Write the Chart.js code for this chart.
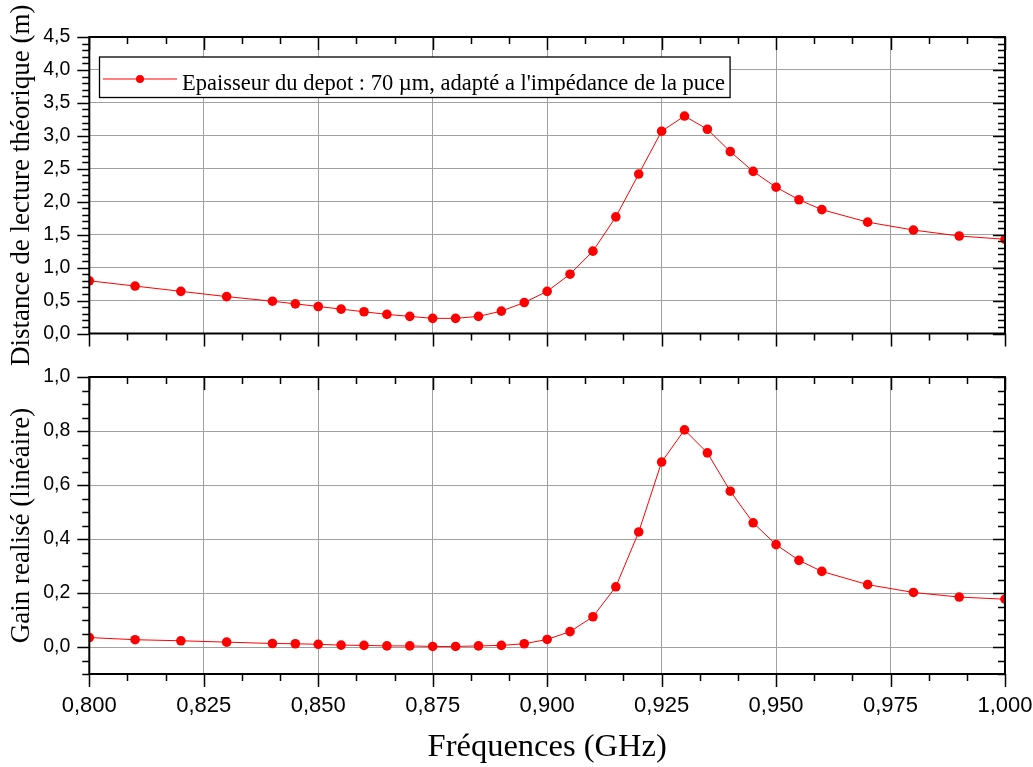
<!DOCTYPE html>
<html>
<head>
<meta charset="utf-8">
<script src="https://cdn.jsdelivr.net/npm/chart.js@4.4.1/dist/chart.umd.min.js"></script>
<style>
  html,body{margin:0;padding:0;background:#fff;}
  #wrap{position:relative;width:1033px;height:767px;}
  canvas{position:absolute;left:0;}
  #c1{top:0;z-index:2;}
  #c2{top:350px;z-index:1;}
</style>
</head>
<body>
<div id="wrap">
  <canvas id="c1" width="1033" height="375"></canvas>
  <canvas id="c2" width="1033" height="417"></canvas>
</div>
<script>
// ---- data ----
const freqGHz = [0.80,0.81,0.82,0.83,0.84,0.845,0.85,0.855,0.86,0.865,0.87,0.875,0.88,0.885,0.89,0.895,0.90,0.905,0.91,0.915,0.92,0.925,0.93,0.935,0.94,0.945,0.95,0.955,0.96,0.97,0.98,0.99,1.00];
const distance = [0.80,0.72,0.64,0.56,0.49,0.45,0.41,0.37,0.33,0.29,0.26,0.23,0.23,0.26,0.34,0.47,0.64,0.90,1.25,1.77,2.42,3.07,3.30,3.10,2.76,2.46,2.22,2.03,1.88,1.69,1.57,1.48,1.43];
const gain = [0.035,0.027,0.023,0.018,0.013,0.012,0.010,0.007,0.006,0.004,0.004,0.002,0.002,0.004,0.006,0.012,0.028,0.057,0.112,0.223,0.426,0.685,0.804,0.719,0.577,0.460,0.379,0.321,0.280,0.231,0.202,0.185,0.177];
const xTicks = [0.800,0.825,0.850,0.875,0.900,0.925,0.950,0.975,1.000];
const yTicksTop = [0,0.5,1.0,1.5,2.0,2.5,3.0,3.5,4.0,4.5];
const yTicksBottom = [0,0.2,0.4,0.6,0.8,1.0];
const seriesLabel = "Epaisseur du depot : 70 µm, adapté a l'impédance de la puce";
const titleTop = "Distance de lecture théorique (m)";
const titleBottom = "Gain realisé (linéaire)";
const titleX = "Fréquences (GHz)";

const RED = '#ff0000';
const GRID = '#a0a0a0';
const SANS = "'Liberation Sans', Arial, sans-serif";
const SERIF = "'Liberation Serif', 'Times New Roman', serif";

function comma(v, d){ return v.toFixed(d).replace('.', ','); }

// frame + minor/major ticks drawn from the scales
function framePlugin(xMinorStep, yMinorStep){
  return {
    id:'frame',
    afterDraw(chart){
      const {ctx, chartArea:a, scales:{x, y}} = chart;
      ctx.save();
      ctx.strokeStyle = '#000';
      ctx.lineWidth = 1.5;
      const nx = Math.round((x.max - x.min)/xMinorStep);
      for(let i=0;i<=nx;i++){
        const v = x.min + i*xMinorStep;
        const px = Math.round(x.getPixelForValue(v))+0.5;
        const major = i % 3 === 0;
        const L = major ? 13 : 7;
        ctx.beginPath();
        ctx.moveTo(px, a.bottom); ctx.lineTo(px, a.bottom + L);
        ctx.moveTo(px, a.top); ctx.lineTo(px, a.top + L);
        ctx.stroke();
      }
      const ny = Math.round((y.max - y.min)/yMinorStep);
      for(let i=0;i<=ny;i++){
        const v = y.min + i*yMinorStep;
        const py = Math.round(y.getPixelForValue(v))+0.5;
        const isMajor = y.ticks.some(t => Math.abs(t.value - v) < 1e-6);
        const L = isMajor ? 12 : 7;
        ctx.beginPath();
        ctx.moveTo(a.left, py); ctx.lineTo(a.left - L, py);
        ctx.moveTo(a.right, py); ctx.lineTo(a.right - L, py);
        ctx.stroke();
      }
      ctx.lineWidth = 2;
      ctx.strokeRect(a.left, a.top, a.right - a.left, a.bottom - a.top);
      ctx.restore();
    }
  };
}

const legendPlugin = {
  id:'boxLegend',
  afterDraw(chart){
    const ctx = chart.ctx;
    const ds = chart.data.datasets[0];
    ctx.save();
    ctx.font = "22.5px " + SERIF;
    const tw = ctx.measureText(ds.label).width;
    const bx = 99.5, by = 57, bh = 40.5;
    const tx = 182;
    const bw = tx + tw + 5 - bx;
    ctx.fillStyle = '#fff';
    ctx.fillRect(bx, by, bw, bh);
    ctx.strokeStyle = '#000';
    ctx.lineWidth = 1.3;
    ctx.strokeRect(bx, by, bw, bh);
    const cy = 79;
    ctx.strokeStyle = RED; ctx.lineWidth = 1;
    ctx.beginPath(); ctx.moveTo(103, cy); ctx.lineTo(177, cy); ctx.stroke();
    ctx.fillStyle = RED;
    ctx.beginPath(); ctx.arc(140, cy, 4, 0, Math.PI*2); ctx.fill();
    ctx.fillStyle = '#000';
    ctx.textBaseline = 'alphabetic';
    ctx.fillText(ds.label, tx, 90);
    ctx.restore();
  }
};

function lineDataset(values){
  return {
    label: seriesLabel,
    data: freqGHz.map((f,i)=>({x:f, y:values[i]})),
    borderColor: RED,
    backgroundColor: RED,
    borderWidth: 1,
    pointRadius: 4.8,
    pointHoverRadius: 4.8,
    pointBackgroundColor: RED,
    pointBorderWidth: 0,
    tension: 0,
    clip: 0
  };
}

function setTicks(list){ return (s)=>{ s.ticks = list.map(v=>({value:v})); }; }

const gridOpts = { color:GRID, lineWidth:1, drawTicks:true, tickLength:19, tickColor:'rgba(0,0,0,0)' };

// ---- top chart ----
new Chart(document.getElementById('c1'), {
  type:'line',
  data:{ datasets:[ lineDataset(distance) ] },
  options:{
    responsive:false, animation:false,
    layout:{ autoPadding:false, padding:{top:37, right:28, bottom:0, left:0} },
    plugins:{ legend:{display:false}, tooltip:{enabled:false} },
    scales:{
      x:{
        type:'linear', min:0.8, max:1.0,
        afterBuildTicks: setTicks(xTicks),
        afterFit:(s)=>{ s.height = 375 - 333.5; },
        ticks:{ display:false },
        grid:{ color:GRID, lineWidth:1, drawTicks:false },
        border:{ display:false }
      },
      y:{
        min:0, max:4.5,
        afterBuildTicks: setTicks(yTicksTop),
        afterFit:(s)=>{ s.width = 89.3; },
        ticks:{ font:{family:SANS, size:19.5}, color:'#000', padding:0, callback:(v)=>comma(v,1) },
        grid:gridOpts,
        border:{ display:false },
        title:{ display:true, text:titleTop, font:{family:SERIF, size:27}, color:'#000', padding:{top:6, bottom:0} }
      }
    }
  },
  plugins:[ framePlugin(0.025/3, 0.1), legendPlugin ]
});

// ---- bottom chart ----
new Chart(document.getElementById('c2'), {
  type:'line',
  data:{ datasets:[ lineDataset(gain) ] },
  options:{
    responsive:false, animation:false,
    layout:{ autoPadding:false, padding:{top:27, right:28, bottom:0, left:0} },
    plugins:{ legend:{display:false}, tooltip:{enabled:false} },
    scales:{
      x:{
        type:'linear', min:0.8, max:1.0,
        afterBuildTicks: setTicks(xTicks),
        afterFit:(s)=>{ s.height = 417 - 324; },
        ticks:{ font:{family:SANS, size:22}, color:'#000', padding:0, maxRotation:0, autoSkip:false, callback:(v)=>comma(v,3) },
        grid:gridOpts,
        border:{ display:false },
        title:{ display:true, text:titleX, font:{family:SERIF, size:32.5, lineHeight:1.0}, color:'#000', padding:{top:0, bottom:3} }
      },
      y:{
        min:-0.1, max:1.0,
        afterBuildTicks: setTicks(yTicksBottom),
        afterFit:(s)=>{ s.width = 89.3; },
        ticks:{ font:{family:SANS, size:19.5}, color:'#000', padding:0, callback:(v)=>comma(v,1) },
        grid:gridOpts,
        border:{ display:false },
        title:{ display:true, text:titleBottom, font:{family:SERIF, size:27}, color:'#000', padding:{top:6, bottom:0} }
      }
    }
  },
  plugins:[ framePlugin(0.025/3, 0.05) ]
});
</script>
</body>
</html>
